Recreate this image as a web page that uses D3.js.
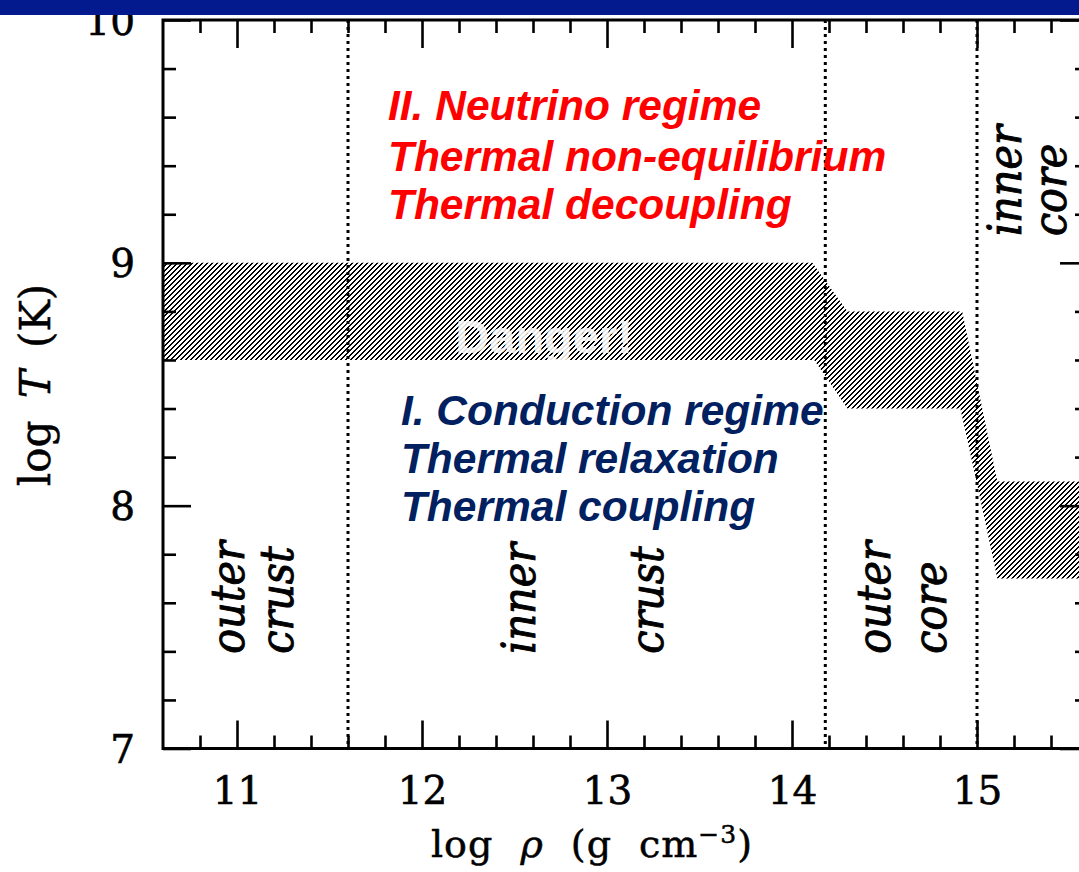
<!DOCTYPE html>
<html><head><meta charset="utf-8">
<script src="https://cdn.jsdelivr.net/npm/d3@7"></script>
<style>
body{margin:0;background:#fff;}
svg{display:block;}
</style></head><body><div id="chart"></div>
<script>
// the "danger" band, upper and lower edges as (log rho, log T)
const bandTop = [[10.6, 9.0], [14.11, 9.0], [14.30, 8.8], [14.92, 8.8], [15.11, 8.1], [15.6, 8.1]];
const bandBottom = [[10.6, 8.6], [14.12, 8.6], [14.30, 8.4], [14.91, 8.4], [15.0, 8.09], [15.11, 7.7], [15.6, 7.7]];
// dotted lines between the star layers
const boundaries = [11.6, 14.18, 15.0];
const xMajor = [11, 12, 13, 14, 15];
const yMajor = [7, 8, 9, 10];
// layer names, written upwards
const regionNames = ['outer', 'crust', 'inner', 'crust', 'outer', 'core', 'inner', 'core'];
const regionRho = [11.04, 11.30, 12.61, 13.30, 14.53, 14.83, 15.24, 15.48];
const regionT = [7.39, 7.39, 7.39, 7.39, 7.39, 7.39, 9.11, 9.11];
const neutrinoLines = ['II. Neutrino regime', 'Thermal non-equilibrium', 'Thermal decoupling'];
const neutrinoAt = [11.816, [9.588, 9.378, 9.181]];
const conductionLines = ['I. Conduction regime', 'Thermal relaxation', 'Thermal coupling'];
const conductionAt = [11.886, [8.333, 8.136, 7.938]];
const dangerText = 'Danger!';
const dangerAt = [12.18, 8.63];

const W = 1079, H = 872;
const svg = d3.select('#chart').append('svg').attr('width', W).attr('height', H);

const x = d3.scaleLinear().domain([10.6, 15.6]).range([163, 1088]);
const y = d3.scaleLinear().domain([7, 10]).range([748.5, 20]);

const serif = "'DejaVu Serif', serif";
const sans = "'Liberation Sans', Arial, sans-serif";

// hatch pattern, drawn pixel by pixel so the stripes stay crisp
const defs = svg.append('defs');
let pat = defs.append('pattern')
    .attr('id', 'hatch')
    .attr('patternUnits', 'userSpaceOnUse')
    .attr('width', 5).attr('height', 5);
d3.range(5).forEach(r => {
  [(4 - r), (5 - r) % 5].forEach(c => {
    pat.append('rect').attr('x', c).attr('y', r).attr('width', 1).attr('height', 1)
      .attr('fill', '#000').attr('shape-rendering', 'crispEdges');
  });
});

// band
let outline = bandTop.concat(bandBottom.slice().reverse());
svg.append('path')
    .attr('d', d3.line().x(d => x(d[0])).y(d => y(d[1])).curve(d3.curveLinearClosed)(outline))
    .attr('fill', 'url(#hatch)');

// dotted boundaries
svg.selectAll('.bound').data(boundaries).enter().append('line')
    .attr('class', 'bound')
    .attr('x1', d => x(d)).attr('x2', d => x(d))
    .attr('y1', y(10)).attr('y2', y(7))
    .attr('stroke', '#000')
    .attr('stroke-width', 3)
    .attr('stroke-dasharray', '3,4');

// axes
let minorX = d3.range(10.8, 15.5, 0.2).filter(v => Math.abs(v - Math.round(v)) > 0.05);
let minorY = d3.range(7.2, 9.9, 0.2).filter(v => Math.abs(v - Math.round(v)) > 0.05);

let axisStyle = g => {
  g.select('.domain').remove();
  g.selectAll('.tick line').attr('stroke', '#000').attr('stroke-width', 2.6);
};

let axBottom = svg.append('g').attr('transform', `translate(0,${y(7)})`);
axBottom.append('g').call(d3.axisBottom(x).tickValues(minorX).tickSize(-13).tickFormat('')).call(axisStyle);
axBottom.append('g').call(d3.axisBottom(x).tickValues(xMajor).tickSize(-28).tickFormat(d3.format('d'))).call(axisStyle)
  .selectAll('text')
    .attr('y', 55).attr('dy', 0)
    .attr('fill', '#000')
    .attr('stroke', '#000').attr('stroke-width', 0.6)
    .style('font-family', serif).style('font-size', '39px');

let axTop = svg.append('g').attr('transform', `translate(0,${y(10)})`);
axTop.append('g').call(d3.axisTop(x).tickValues(minorX).tickSize(-13).tickFormat('')).call(axisStyle);
axTop.append('g').call(d3.axisTop(x).tickValues(xMajor).tickSize(-28).tickFormat('')).call(axisStyle);

let axLeft = svg.append('g').attr('transform', `translate(${x(10.6)},0)`);
axLeft.append('g').call(d3.axisLeft(y).tickValues(minorY).tickSize(-13).tickFormat('')).call(axisStyle);
axLeft.append('g').call(d3.axisLeft(y).tickValues(yMajor).tickSize(-28).tickFormat(d3.format('d'))).call(axisStyle)
  .selectAll('text')
    .attr('x', -28).attr('dy', '0.36em')
    .attr('fill', '#000')
    .attr('stroke', '#000').attr('stroke-width', 0.6)
    .style('font-family', serif).style('font-size', '39px');

let axRight = svg.append('g').attr('transform', `translate(${x(15.6)},0)`);
axRight.append('g').call(d3.axisRight(y).tickValues(minorY).tickSize(-13).tickFormat('')).call(axisStyle);
axRight.append('g').call(d3.axisRight(y).tickValues(yMajor).tickSize(-28).tickFormat('')).call(axisStyle);

// frame
svg.append('rect')
    .attr('x', x(10.6)).attr('y', y(10))
    .attr('width', x(15.6) - x(10.6)).attr('height', y(7) - y(10))
    .attr('fill', 'none').attr('stroke', '#000').attr('stroke-width', 3);

// axis titles
let xt = svg.append('text')
    .attr('x', 592).attr('y', 857)
    .attr('text-anchor', 'middle')
    .attr('stroke', '#000').attr('stroke-width', 0.5)
    .style('font-family', serif).style('font-size', '38px')
    .style('word-spacing', '14px').style('letter-spacing', '1px');
xt.append('tspan').text('log ');
xt.append('tspan').style('font-style', 'italic').text('ρ');
xt.append('tspan').text(' (g cm');
xt.append('tspan').attr('dy', -14).style('font-size', '25px').text('−3');
xt.append('tspan').attr('dy', 14).text(')');

let yt = svg.append('text')
    .attr('transform', 'translate(50,385) rotate(-90)')
    .attr('text-anchor', 'middle')
    .attr('stroke', '#000').attr('stroke-width', 0.5)
    .style('font-family', serif).style('font-size', '42px')
    .style('word-spacing', '9px');
yt.append('tspan').text('log ');
yt.append('tspan').style('font-style', 'italic').text('T');
yt.append('tspan').text(' (K)');

// layer names
svg.selectAll('.region').data(regionNames).enter().append('text')
    .attr('class', 'region')
    .attr('transform', (d, i) => `translate(${x(regionRho[i])},${y(regionT[i])}) rotate(-90)`)
    .attr('stroke', '#000').attr('stroke-width', 0.9)
    .style('font-family', "'DejaVu Serif Condensed', 'DejaVu Serif', serif")
    .style('font-stretch', 'condensed')
    .style('font-style', 'italic')
    .style('font-size', '46px')
    .text(d => d);

// regime notes
svg.selectAll('.nu').data(neutrinoLines).enter().append('text')
    .attr('class', 'nu')
    .attr('x', x(neutrinoAt[0]))
    .attr('y', (d, i) => y(neutrinoAt[1][i]))
    .attr('fill', '#ff0000')
    .style('font-family', sans).style('font-weight', 'bold').style('font-style', 'italic')
    .style('font-size', '42.5px')
    .text(d => d);

svg.selectAll('.cond').data(conductionLines).enter().append('text')
    .attr('class', 'cond')
    .attr('x', x(conductionAt[0]))
    .attr('y', (d, i) => y(conductionAt[1][i]))
    .attr('fill', '#002060')
    .style('font-family', sans).style('font-weight', 'bold').style('font-style', 'italic')
    .style('font-size', '42.5px')
    .text(d => d);

svg.append('text')
    .attr('x', x(dangerAt[0])).attr('y', y(dangerAt[1]))
    .attr('fill', '#fff').attr('fill-opacity', 0.88)
    .style('font-family', sans).style('font-weight', 'bold')
    .style('font-size', '47px')
    .text(dangerText);

// slide header strip
svg.append('rect').attr('x', 0).attr('y', 0).attr('width', W).attr('height', 15).attr('fill', '#021a8e');
</script>
</body></html>
